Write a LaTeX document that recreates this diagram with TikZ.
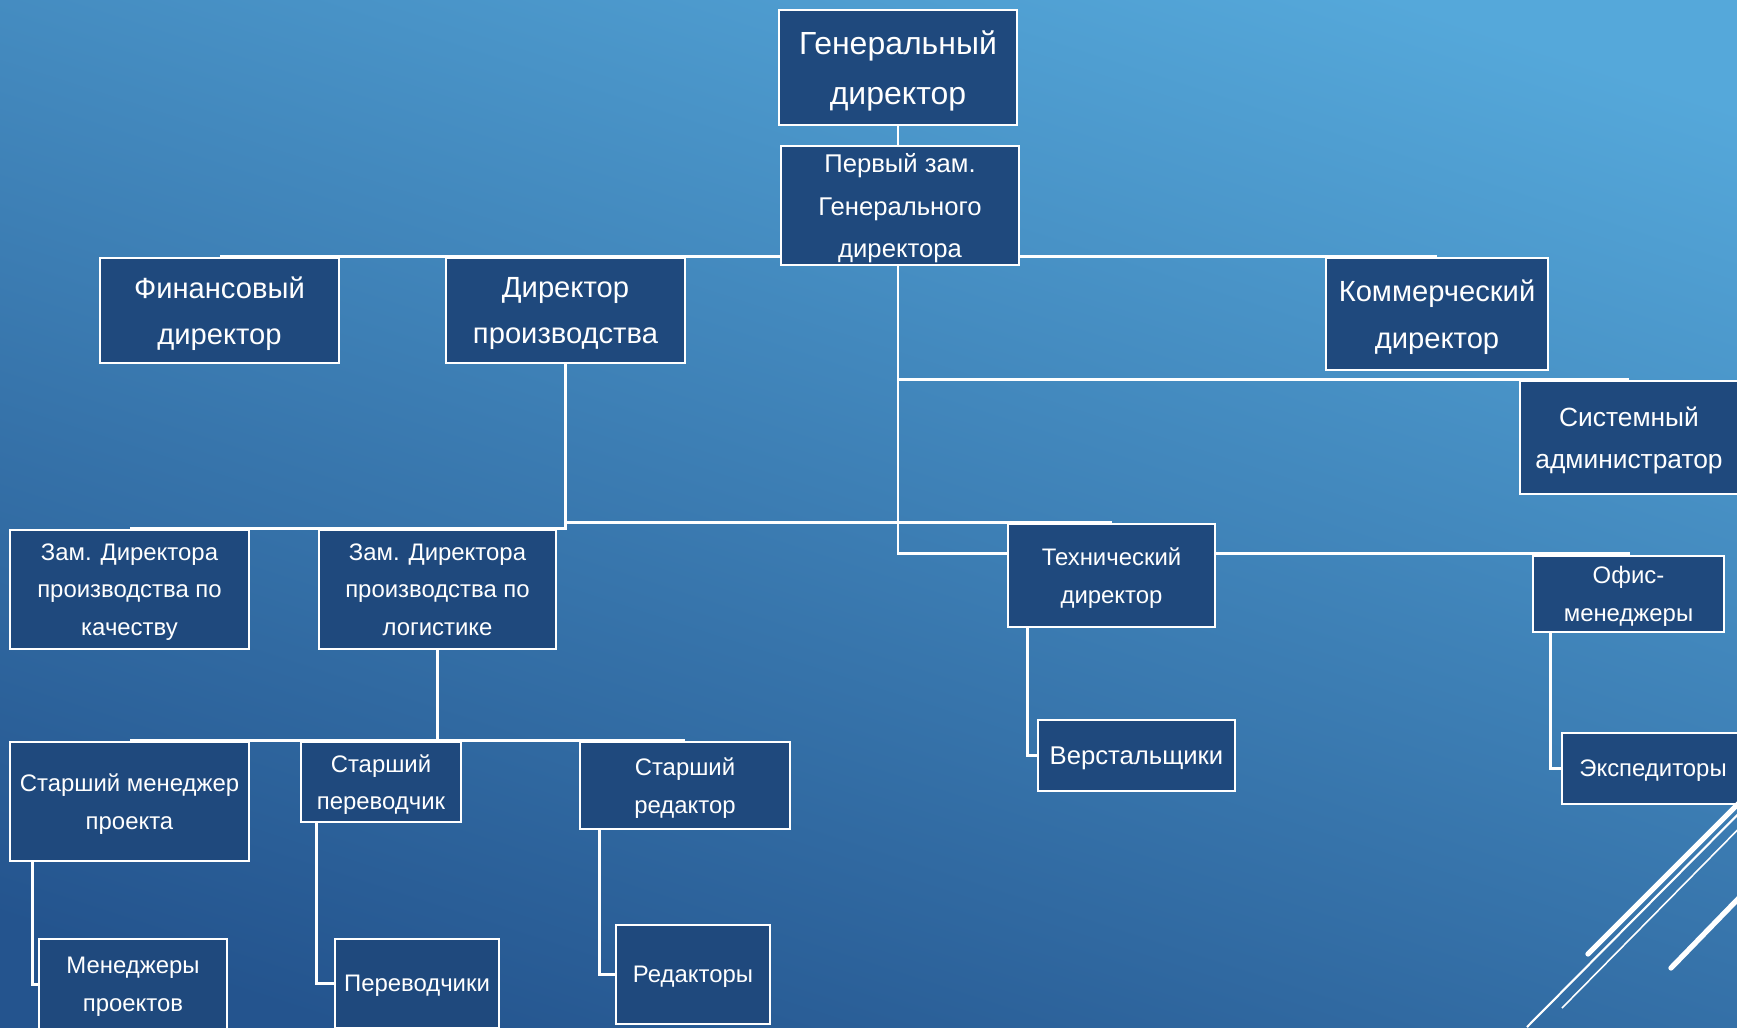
\documentclass[tikz,border=0pt]{standalone}
\usepackage{fontspec}
\setmainfont{Liberation Sans}
\usetikzlibrary{positioning,calc,backgrounds}
\definecolor{postblue}{HTML}{1F497D}
\definecolor{skytop}{HTML}{55A8DA}
\definecolor{skybottom}{HTML}{24548E}

\begin{document}
\begin{tikzpicture}
    [x=1mm, y=-1mm,
     post/.style={draw=white,line width=0.75pt,fill=postblue,text=white,align=center,inner sep=0pt,text depth=0pt},
     box/.style 2 args={minimum width=#1mm,minimum height=#2mm},
     chief/.style={post,font=\fontsize{9.1}{14.2}\selectfont},
     deputy/.style={post,font=\fontsize{7.3}{12}\selectfont},
     head/.style={post,font=\fontsize{8.3}{13.2}\selectfont},
     staff/.style={post,font=\fontsize{6.8}{10.7}\selectfont},
     link/.style={draw=white,line width=0.75pt}]
    \useasboundingbox (0, 0) rectangle (173.7, 102.7);

    % Top
    \node (gen) at (89.8, 6.75) [chief, box={23.8}{11.5}] {Генеральный\\директор};
    \node (zam1) at (90.0, 20.55) [deputy, box={23.8}{11.9}] {Первый зам.\\Генерального\\директора};

    % Directors
    \node (fin) at (21.95, 31.05) [head, box={23.9}{10.5}] {Финансовый\\директор};
    \node (proizv) at (56.55, 31.05) [head, box={23.9}{10.5}] {Директор\\производства};
    \node (komm) at (143.7, 31.4) [head, box={22.2}{11.2}] {Коммерческий\\директор};
    \node (sysadm) at (162.9, 43.75) [post, box={21.8}{11.3}, font=\fontsize{7.5}{12}\selectfont] {Системный\\администратор};
    \node (tech) at (111.15, 57.55) [staff, box={20.7}{10.3}] {Технический\\директор};
    \node (ofis) at (162.85, 59.4) [staff, box={19.1}{7.6}] {Офис-\\менеджеры};

    % Production
    \node (zamk) at (12.95, 58.95) [staff, box={23.9}{11.9}] {Зам. Директора\\производства по\\качеству};
    \node (zaml) at (43.75, 58.95) [staff, box={23.7}{11.9}] {Зам. Директора\\производства по\\логистике};
    \node (smen) at (12.95, 80.15) [staff, box={23.9}{11.9}] {Старший менеджер\\проекта};
    \node (sperev) at (38.1, 78.2) [staff, box={16.0}{8.0}] {Старший\\переводчик};
    \node (sred) at (68.5, 78.55) [staff, box={21.0}{8.7}] {Старший\\редактор};

    % Staff
    \node (menpr) at (13.3, 98.45) [staff, box={18.8}{9.1}] {Менеджеры\\проектов};
    \node (perev) at (41.7, 98.35) [staff, box={16.4}{8.9}] {Переводчики};
    \node (red) at (69.3, 97.45) [staff, box={15.4}{9.9}] {Редакторы};
    \node (verst) at (113.65, 75.55) [post, box={19.7}{7.1}, font=\fontsize{7.3}{11}\selectfont] {Верстальщики};
    \node (eksp) at (165.3, 76.85) [staff, box={18.2}{7.1}] {Экспедиторы};

    \begin{scope}[on background layer]
        \shade [top color=skytop, bottom color=skybottom, shading angle=-18]
            (-5, -5) rectangle (180, 108);

        \draw [link] (gen.south) -- (gen.south |- zam1.north);
        \draw [link] (zam1.west |- fin.north) -- (proizv.north) -- (fin.north);
        \draw [link] (zam1.east |- komm.north) -- (komm.north);
        \draw [link] (zam1.south -| gen.south) |- (sysadm.north);
        \draw [link] (zam1.south -| gen.south) |- (tech.168);
        \draw [link] (tech.12) -| (ofis.north);

        \draw [link] (proizv.south) |- (tech.north);
        \draw [link] (proizv.south) |- (zamk.north);
        \draw [link] (proizv.south) |- (zaml.north);

        \draw [link] (zaml.south) |- (smen.north);
        \draw [link] (zaml.south) |- (sperev.north);
        \draw [link] (zaml.south) |- (sred.north);

        \draw [link] ($(tech.south west)+(2.1, 0)$) |- (verst.west);
        \draw [link] ($(ofis.south west)+(1.9, 0)$) |- (eksp.west);
        \draw [link] ($(smen.south west)+(2.4, 0)$) |- (menpr.west);
        \draw [link] ($(sperev.south west)+(1.7, 0)$) |- (perev.west);
        \draw [link] ($(sred.south west)+(2.1, 0)$) |- (red.west);
    \end{scope}

    % Corner strokes
    \draw [white, line width=1.5pt, line cap=round] (158.8, 95.4) -- (177, 77.2);
    \draw [white, line width=0.6pt] (152.7, 102.7) -- (177, 78.2);
    \draw [white, line width=0.45pt] (156.2, 100.8) -- (177, 79.7);
    \draw [white, line width=1.5pt, line cap=round] (167.1, 96.8) -- (177, 86.6);
\end{tikzpicture}
\end{document}
